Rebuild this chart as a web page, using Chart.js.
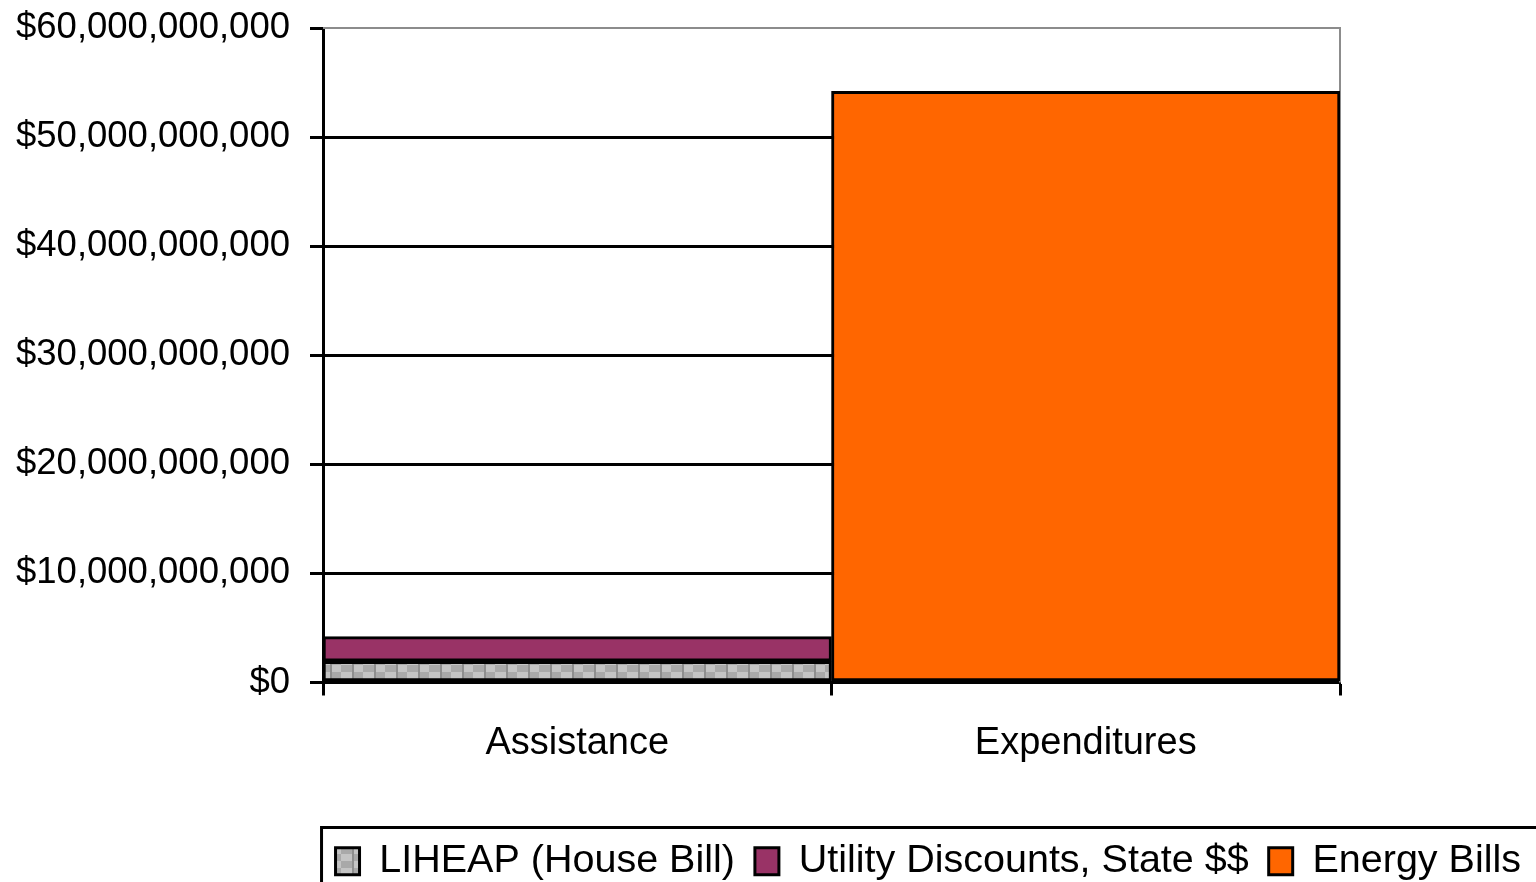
<!DOCTYPE html>
<html>
<head>
<meta charset="utf-8">
<script src="https://cdn.jsdelivr.net/npm/chart.js@4.4.1/dist/chart.umd.min.js"></script>
<style>
	html, body { margin: 0; padding: 0; background: #fff; }
	#wrap { width: 1536px; height: 882px; position: relative; }
</style>
</head>
<body>
<div id="wrap"><canvas id="myChartEnergia"></canvas></div>
<script>
var categorias = ['Assistance', 'Expenditures'];
var liheap = [1950000000, null];
var descuentos = [2250000000, null];
var facturas = [null, 54200000000];
var yMax = 60000000000;
var yPaso = 10000000000;

// patron gris para LIHEAP
function patronGris() {
	var c = document.createElement('canvas');
	c.width = 22;
	c.height = 14;
	var g = c.getContext('2d');
	g.fillStyle = '#c4c4c4';
	g.fillRect(0, 0, 22, 14);
	g.fillStyle = '#a9a9a9';
	g.fillRect(0, 0, 11, 7);
	g.fillRect(11, 7, 11, 7);
	g.fillStyle = '#8e8e8e';
	g.fillRect(0, 0, 2, 14);
	return g.createPattern(c, 'repeat');
}

// marco gris arriba y a la derecha del area del grafico
var marcoArea = {
	id: 'marcoArea',
	beforeDatasetsDraw: function (chart) {
		var a = chart.chartArea;
		var ctx = chart.ctx;
		ctx.save();
		ctx.strokeStyle = '#8c8c8c';
		ctx.lineWidth = 2;
		ctx.beginPath();
		ctx.moveTo(a.left, a.top);
		ctx.lineTo(a.right, a.top);
		ctx.lineTo(a.right, a.bottom);
		ctx.stroke();
		ctx.restore();
	},
};

// recuadro negro alrededor de la leyenda
var marcoLeyenda = {
	id: 'marcoLeyenda',
	afterDraw: function (chart) {
		var cajas = chart.legend.legendHitBoxes;
		if (!cajas || !cajas.length) return;
		var ctx = chart.ctx;
		ctx.save();
		ctx.strokeStyle = '#000';
		ctx.lineWidth = 3;
		ctx.strokeRect(cajas[0].left - 14, cajas[0].top - 14, chart.width, 100);
		ctx.restore();
	},
};

// sin sobrantes de etiquetas en el borde
function sinSobrante(s) {
	s.paddingTop = 0;
	s.paddingBottom = 0;
	s.paddingLeft = 0;
	s.paddingRight = 0;
}

var ctx = document.getElementById('myChartEnergia');
var myChart = new Chart(ctx, {
	type: 'bar',
	data: {
		labels: categorias,
		datasets: [
			{
				label: 'LIHEAP (House Bill)',
				data: liheap,
				backgroundColor: patronGris(),
				borderColor: '#000',
				borderWidth: 3,
				borderSkipped: false,
			},
			{
				label: 'Utility Discounts, State $$',
				data: descuentos,
				backgroundColor: '#993366',
				borderColor: '#000',
				borderWidth: 3,
				borderSkipped: false,
			},
			{
				label: 'Energy Bills',
				data: facturas,
				backgroundColor: '#ff6600',
				borderColor: '#000',
				borderWidth: 3,
				borderSkipped: false,
			},
		],
	},
	options: {
		responsive: true,
		maintainAspectRatio: false,
		animation: false,
		layout: {
			padding: { top: 28, right: -5, bottom: -9, left: 16 },
		},
		datasets: {
			bar: { barPercentage: 1, categoryPercentage: 1 },
		},
		scales: {
			x: {
				stacked: true,
				grid: {
					drawOnChartArea: false,
					drawTicks: true,
					tickLength: 13,
					tickColor: '#000',
					tickWidth: 3,
				},
				border: { color: '#000', width: 3 },
				ticks: {
					color: '#000',
					padding: 25,
					font: { family: 'Liberation Sans', size: 38 },
				},
				afterFit: function (s) {
					sinSobrante(s);
					s.height = 139;
				},
			},
			y: {
				stacked: true,
				min: 0,
				max: yMax,
				ticks: {
					stepSize: yPaso,
					color: '#000',
					padding: 20,
					font: { family: 'Liberation Sans', size: 36.5 },
					callback: function (v) {
						return '$' + v.toLocaleString('en-US');
					},
				},
				grid: {
					color: function (c) {
						return c.tick && c.tick.value === yMax ? 'rgba(0,0,0,0)' : '#000';
					},
					lineWidth: 3,
					tickLength: 13,
					tickColor: '#000',
					tickWidth: 3,
				},
				border: { color: '#000', width: 3 },
				afterFit: function (s) {
					sinSobrante(s);
					s.width = 307;
				},
			},
			// eje vacio a la derecha, solo reserva el margen
			margen: {
				type: 'linear',
				position: 'right',
				display: true,
				grid: { display: false },
				border: { display: false },
				ticks: { display: false },
				afterFit: function (s) {
					sinSobrante(s);
					s.width = 201;
				},
			},
		},
		plugins: {
			tooltip: { enabled: false },
			legend: {
				position: 'bottom',
				align: 'end',
				labels: {
					color: '#000',
					boxWidth: 24,
					boxHeight: 27,
					padding: 20,
					font: { family: 'Liberation Sans', size: 39.5, lineHeight: 1 },
				},
			},
		},
	},
	plugins: [marcoArea, marcoLeyenda],
});
</script>
</body>
</html>
